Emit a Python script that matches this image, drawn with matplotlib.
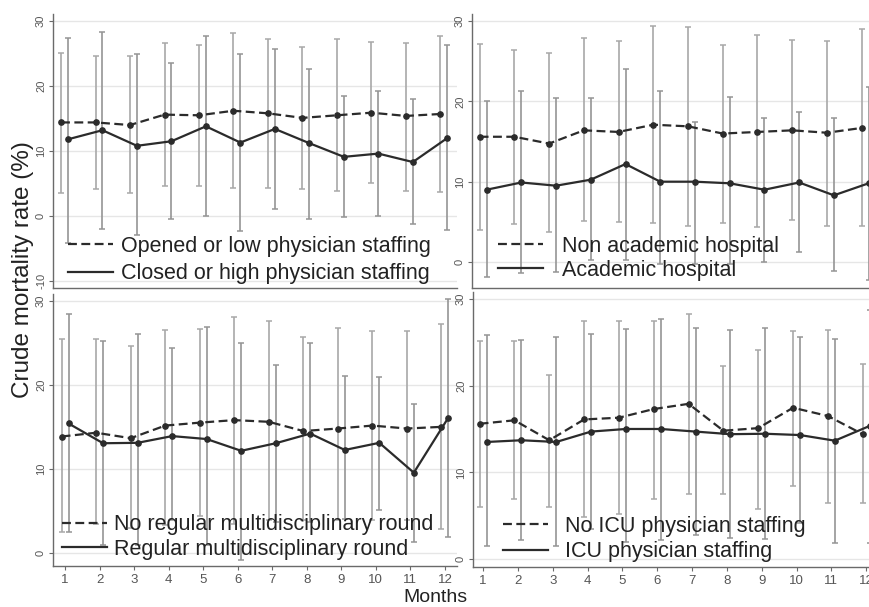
import numpy as np
import matplotlib
matplotlib.use('Agg')
import matplotlib.pyplot as plt

plt.rcParams['font.family'] = ['Liberation Sans', 'DejaVu Sans']

months = np.arange(1, 13)

# Panel 1: ICU organisation
p1_dash = [14.4, 14.4, 14.0, 15.6, 15.5, 16.2, 15.8, 15.1, 15.5, 15.9, 15.4, 15.7]
p1_dash_lo = [3.6, 4.2, 3.5, 4.6, 4.6, 4.3, 4.3, 4.1, 3.8, 5.0, 3.8, 3.7]
p1_dash_hi = [25.1, 24.6, 24.6, 26.7, 26.4, 28.1, 27.2, 26.0, 27.3, 26.8, 26.7, 27.7]
p1_solid = [11.8, 13.2, 10.8, 11.5, 13.8, 11.3, 13.4, 11.2, 9.1, 9.6, 8.3, 12.0]
p1_solid_lo = [-4.1, -2.0, -3.0, -0.5, 0.05, -2.3, 1.0, -0.4, -0.2, 0.0, -1.3, -2.2]
p1_solid_hi = [27.4, 28.3, 24.9, 23.6, 27.7, 24.9, 25.7, 22.7, 18.5, 19.2, 18.0, 26.3]
p1_labels = ['Opened or low physician staffing', 'Closed or high physician staffing']

# Panel 2: hospital type
p2_dash = [15.6, 15.6, 14.75, 16.4, 16.2, 17.1, 16.9, 16.0, 16.2, 16.4, 16.1, 16.7]
p2_dash_lo = [4.0, 4.75, 3.7, 5.1, 5.0, 4.8, 4.5, 4.8, 4.3, 5.25, 4.5, 4.5]
p2_dash_hi = [27.1, 26.4, 26.0, 27.9, 27.5, 29.4, 29.3, 27.0, 28.25, 27.6, 27.5, 29.0]
p2_solid = [9.0, 9.9, 9.5, 10.25, 12.2, 10.0, 10.0, 9.8, 9.0, 9.9, 8.3, 9.8]
p2_solid_lo = [-1.9, -1.4, -1.3, 0.3, 0.3, -0.2, -0.2, -0.2, 0.0, 1.2, -1.1, -2.3]
p2_solid_hi = [20.0, 21.3, 20.4, 20.4, 24.1, 21.3, 17.4, 20.5, 18.0, 18.7, 17.9, 21.8]
p2_labels = ['Non academic hospital', 'Academic hospital']

# Panel 3: multidisciplinary round
p3_dash = [13.85, 14.3, 13.65, 15.15, 15.5, 15.8, 15.6, 14.5, 14.8, 15.15, 14.8, 15.0]
p3_dash_lo = [2.5, 3.5, 3.0, 3.3, 4.4, 3.5, 3.9, 3.9, 3.9, 3.9, 3.9, 2.8]
p3_dash_hi = [25.4, 25.4, 24.6, 26.5, 26.6, 28.05, 27.6, 25.7, 26.7, 26.35, 26.4, 27.2]
p3_solid = [15.4, 13.05, 13.1, 13.9, 13.55, 12.15, 13.05, 14.2, 12.25, 13.1, 9.55, 16.1]
p3_solid_lo = [2.5, 0.95, 1.0, 3.9, 0.95, -0.8, 3.7, 3.7, 4.0, 5.1, 1.35, 1.9]
p3_solid_hi = [28.4, 25.2, 26.0, 24.4, 26.9, 25.0, 22.3, 25.0, 21.1, 20.9, 17.7, 30.2]
p3_labels = ['No regular multidisciplinary round', 'Regular multidisciplinary round']

# Panel 4: ICU physician staffing
p4_dash = [15.6, 16.0, 13.7, 16.1, 16.3, 17.3, 17.9, 14.8, 15.1, 17.45, 16.5, 14.4]
p4_dash_lo = [6.0, 6.9, 6.0, 4.8, 5.15, 6.9, 7.5, 7.5, 5.8, 8.4, 6.5, 6.5]
p4_dash_hi = [25.1, 25.1, 21.2, 27.4, 27.45, 27.45, 28.3, 22.3, 24.1, 26.3, 26.4, 22.5]
p4_solid = [13.5, 13.7, 13.5, 14.7, 15.0, 15.0, 14.7, 14.4, 14.45, 14.3, 13.65, 15.35]
p4_solid_lo = [1.5, 2.2, 1.5, 3.5, 2.0, 2.2, 2.8, 2.4, 2.3, 4.1, 1.9, 1.9]
p4_solid_hi = [25.8, 25.3, 25.6, 26.0, 26.5, 27.7, 26.6, 26.4, 26.7, 25.6, 25.4, 28.7]
p4_labels = ['No ICU physician staffing', 'ICU physician staffing']

W, H = 870, 607
fig = plt.figure(figsize=(W / 100, H / 100), dpi=100)


def px_axes(left, right, top, bottom):
    return fig.add_axes([left / W, 1 - bottom / H, (right - left) / W, (bottom - top) / H])


def draw_panel(ax, dash, dlo, dhi, solid, slo, shi, labels, ylim, xlim, yticks, xticklabels,
               leg_xy, textpad, rowgap):
    xd = months - 0.1
    xs = months + 0.1
    dash = np.array(dash)
    solid = np.array(solid)
    ax.errorbar(xd, dash, yerr=[dash - np.array(dlo), np.array(dhi) - dash], fmt='none',
                ecolor='#a8a8a8', elinewidth=1.2, capsize=2.3, capthick=1.1, zorder=1)
    ax.errorbar(xs, solid, yerr=[solid - np.array(slo), np.array(shi) - solid], fmt='none',
                ecolor='#959595', elinewidth=1.2, capsize=2.3, capthick=1.1, zorder=1)
    ax.plot(xd, dash, color='#2b2b2b', lw=1.6, ls=(0, (4, 2)), marker='o', ms=3.8, zorder=3,
            label=labels[0])
    ax.plot(xs, solid, color='#2b2b2b', lw=1.6, ls='-', marker='o', ms=3.8, zorder=3,
            label=labels[1])
    ax.set_ylim(*ylim)
    ax.set_xlim(*xlim)
    ax.set_yticks(yticks)
    ax.set_yticklabels([str(t) for t in yticks], rotation=90, va='center', fontsize=8, color='#555555')
    ax.grid(axis='y', color='#e6e6e6', lw=1)
    ax.set_axisbelow(True)
    for s in ['top', 'right']:
        ax.spines[s].set_visible(False)
    for s in ['left', 'bottom']:
        ax.spines[s].set_color('#6a6a6a')
        ax.spines[s].set_linewidth(1.0)
    ax.tick_params(axis='y', length=3, color='#6a6a6a', pad=2)
    if xticklabels:
        ax.set_xticks(months)
        ax.set_xticklabels([str(m) for m in months], fontsize=9.5, color='#555555')
        ax.tick_params(axis='x', length=3, color='#6a6a6a', pad=3)
    else:
        ax.set_xticks([])
    leg = ax.legend(loc='upper left', bbox_to_anchor=leg_xy, frameon=False, fontsize=15.5,
                    handlelength=2.1, handletextpad=textpad, labelspacing=rowgap,
                    borderaxespad=0, borderpad=0)
    for t in leg.get_texts():
        t.set_color('#222222')
    for h in leg.legend_handles:
        h.set_marker('')


ax1 = px_axes(53, 457, 14, 288)
draw_panel(ax1, p1_dash, p1_dash_lo, p1_dash_hi, p1_solid, p1_solid_lo, p1_solid_hi, p1_labels,
           (-11.1, 31.1), (0.667, 12.38), [-10, 0, 10, 20, 30], False, (0.037, 0.19), 0.35, 0.3)

ax2 = px_axes(472, 870, 14, 288)
draw_panel(ax2, p2_dash, p2_dash_lo, p2_dash_hi, p2_solid, p2_solid_lo, p2_solid_hi, p2_labels,
           (-3.25, 30.9), (0.68, 12.14), [0, 10, 20, 30], False, (0.065, 0.19), 0.9, 0.12)

ax3 = px_axes(53, 457, 294, 566)
draw_panel(ax3, p3_dash, p3_dash_lo, p3_dash_hi, p3_solid, p3_solid_lo, p3_solid_hi, p3_labels,
           (-1.55, 30.8), (0.65, 12.35), [0, 10, 20, 30], True, (0.022, 0.19), 0.3, 0.15)

ax4 = px_axes(473, 870, 292, 567)
draw_panel(ax4, p4_dash, p4_dash_lo, p4_dash_hi, p4_solid, p4_solid_lo, p4_solid_hi, p4_labels,
           (-0.92, 30.8), (0.71, 12.11), [0, 10, 20, 30], True, (0.076, 0.186), 0.75, 0.2)

fig.text(435 / W, 1 - 597 / H, 'Months', ha='center', va='center', fontsize=14, color='#222222')
fig.text(23 / W, 1 - 270 / H, 'Crude mortality rate (%)', ha='center', va='center',
         rotation=90, fontsize=17.5, color='#222222')

fig.savefig('out.png', dpi=100)
